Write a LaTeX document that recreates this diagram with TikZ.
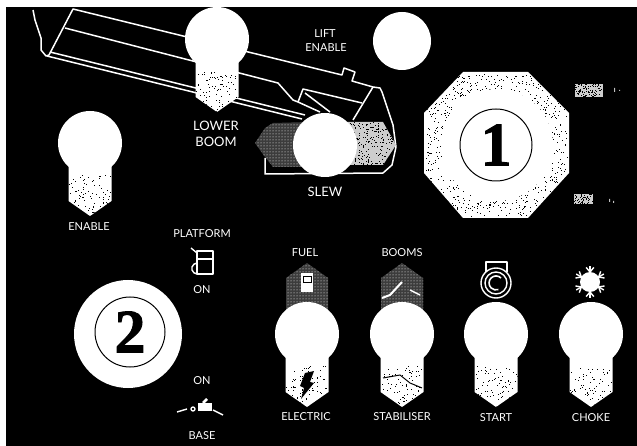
\documentclass[tikz,border=0pt]{standalone}
\usepackage{fontspec}
\setsansfont{Lato}
\newfontfamily\numfont[BoldFeatures={FakeBold=1.5}]{Liberation Serif}
\usetikzlibrary{patterns}
\definecolor{panelblack}{RGB}{0, 0, 0}
\definecolor{darkdot}{RGB}{60, 60, 60}
\definecolor{patchgray}{RGB}{205, 205, 205}
\tikzset{
    panellabel/.style={text=white, font=\sffamily\fontsize{11}{11}\selectfont, inner sep=0pt},
    biglabel/.style={text=white, font=\sffamily\fontsize{13}{13}\selectfont, inner sep=0pt},
    numberlabel/.style={text=black, font=\numfont\bfseries\fontsize{62}{62}\selectfont, inner sep=0pt},
    darkdots/.style={preaction={fill=darkdot}, pattern=dots, pattern color=white},
    panelline/.style={white, line width=1.5pt, line join=round},
    iconline/.style={white, line width=1.4pt, line join=round}
}
% black specks in a box: x1, y1, x2, y2, count
\newcommand{\speckle}[5]{
    \foreach \i in {1,...,#5} {
        \pgfmathsetmacro{\sx}{(#1)+rnd*((#3)-(#1))}
        \pgfmathsetmacro{\sy}{(#2)+rnd*((#4)-(#2))}
        \fill[black] (\sx, \sy) rectangle ++(1, 1);
    }
}
% one knob: round head and pointed dotted stem
\newcommand{\knob}[2]{
    \fill[white] (#1-21.5, #2+20) -- (#1-21.5, #2+58) -- (#1, #2+73) -- (#1+21.5, #2+58) -- (#1+21.5, #2+20) -- cycle;
    \begin{scope}
        \clip (#1-21.5, #2+20) -- (#1-21.5, #2+58) -- (#1, #2+73) -- (#1+21.5, #2+58) -- (#1+21.5, #2+20) -- cycle;
        \speckle{#1-21}{#2+32}{#1+21}{#2+72}{85}
    \end{scope}
    \fill[white] (#1, #2) circle (32);
}
\begin{document}
\begin{tikzpicture}[x=1pt, y=-1pt]
    \useasboundingbox (0, 0) rectangle (637, 446);
    \pgfmathsetseed{7}
    \fill[white] (0, 0) rectangle (637, 446);
    \fill[panelblack] (6, 7) rectangle (637, 446);

    % boom outline
    \draw[panelline] (33, 10) -- (35, 20) -- (41, 38) -- (41, 50) -- (46, 56) -- (49, 55) -- (73, 9) -- (342, 75) -- (344, 68) -- (355, 72) -- (352, 81) -- (373, 87) -- (380, 88) -- (382, 92) -- (393, 125) -- (396, 147) -- (392, 165) -- (383, 173) -- (265, 174) -- (265, 158);
    \draw[panelline] (373, 87) -- (353, 120);
    \draw[panelline] (65, 28) -- (278, 83) -- (293, 100) -- (298, 102) -- (303, 89) -- (362, 103);
    \draw[panelline] (298, 102) -- (320, 112);
    \draw[panelline] (305, 93) -- (330, 112);
    \draw[panelline] (50, 52) -- (305, 115);
    \draw[panelline] (47, 56) -- (302, 119);

    % slew arrows
    \path[darkdots] (255, 143) -- (265, 128) -- (273, 123) -- (310, 122) -- (310, 167) -- (273, 167) -- (265, 157) -- cycle;
    \fill[patchgray] (345, 122) -- (383, 122) -- (396, 145) -- (383, 165) -- (345, 165) -- cycle;
    \begin{scope}
        \clip (345, 122) -- (383, 122) -- (396, 145) -- (383, 165) -- (345, 165) -- cycle;
        \speckle{345}{122}{396}{165}{260}
    \end{scope}
    \fill[white] (325, 145) circle (32);

    % knobs
    \knob{217}{39}
    \knob{90}{143}
    \path[darkdots] (286, 278) -- (307, 263) -- (328, 278) -- (328, 310) -- (286, 310) -- cycle;
    \path[darkdots] (381, 278) -- (402, 263) -- (423, 278) -- (423, 310) -- (381, 310) -- cycle;
    \foreach \x in {307, 402, 496, 591} {
        \knob{\x}{334}
    }
    \fill[white] (402, 41) circle (29);

    % octagon 1
    \fill[white] (463, 72) -- (528, 72) -- (569, 113) -- (569, 173) -- (528, 218) -- (463, 218) -- (424, 173) -- (424, 113) -- cycle;
    \begin{scope}
        \clip (463, 72) -- (528, 72) -- (569, 113) -- (569, 173) -- (528, 218) -- (463, 218) -- (424, 173) -- (424, 113) -- cycle;
        \speckle{426}{74}{567}{216}{1200}
    \end{scope}
    \fill[white] (497, 145) circle (56);
    \draw[black, line width=1pt] (496, 145) circle (36);
    \node[numberlabel] (one) at (496, 145) {1};

    % disc 2
    \fill[white] (128, 334) circle (54);
    \draw[black, line width=1pt] (130, 332) circle (35);
    \node[numberlabel] (two) at (130, 332) {2};

    % small marks at the right
    \fill[patchgray] (575, 84) rectangle (603, 97);
    \speckle{575}{84}{602}{96}{90}
    \fill[patchgray] (574, 194) rectangle (593, 204);
    \speckle{574}{194}{592}{203}{50}
    \fill[white!75!black] (614, 88) rectangle (615, 92) (619, 90) rectangle (620, 91);
    \fill[white!75!black] (609, 199) rectangle (610, 202) (613, 201) rectangle (614, 203);

    % fuel can
    \draw[iconline] (191, 248) -- (197, 253);
    \draw[iconline] (197, 251) rectangle (213, 274);
    \draw[iconline] (197, 259) -- (213, 259);
    \draw[iconline, rounded corners=2pt] (197, 263) -- (192, 265) -- (192, 272) -- (197, 274);

    % base switch
    \draw[iconline] (177, 412) -- (187, 409);
    \draw[iconline] (193, 409) circle (2);
    \fill[white] (198, 403) rectangle (212, 411);
    \draw[white, line width=2.5pt] (203, 403) -- (207, 399);
    \draw[iconline] (213, 410) -- (223, 415);

    % icons on the knobs
    \fill[white] (301, 273) rectangle (313, 292);
    \draw[black] (303, 276) rectangle (311, 282);
    \draw[white, line width=2pt] (382, 298) -- (390, 295) -- (402, 282);
    \draw[white, line width=1.4pt] (410, 290) -- (420, 295);
    \fill[black] (305, 373) -- (314, 371) -- (310, 382) -- (314, 383) -- (301, 399) -- (304, 388) -- (300, 386) -- cycle;
    \draw[black, line width=1pt] (383, 378) -- (400, 375) -- (410, 383) -- (422, 388);

    % key symbol
    \draw[iconline] (486, 272) -- (486, 262) -- (507, 262) -- (507, 272);
    \draw[iconline, fill=panelblack] (496, 283) circle (15);
    \draw[iconline] (496, 283) circle (11);
    \draw[white, line width=1.6pt] (501, 278) arc (-45:-290:7);

    % snowflake
    \fill[white] (590, 282) circle (10);
    \foreach \a in {30, 90, 150, 210, 270, 330} {
        \draw[iconline] (590, 282) -- ++(\a:16);
        \draw[iconline] (590, 282) ++(\a:10) -- ++(\a+40:6);
        \draw[iconline] (590, 282) ++(\a:10) -- ++(\a-40:6);
    }

    % labels
    \node[panellabel] (lift) at (325, 34) {LIFT};
    \node[panellabel] (liften) at (326, 48) {ENABLE};
    \node[biglabel] (lower) at (216, 126) {LOWER};
    \node[biglabel] (boom) at (216, 142) {BOOM};
    \node[biglabel] (slew) at (325, 192) {SLEW};
    \node[panellabel] (enable) at (89, 227) {ENABLE};
    \node[panellabel] (platform) at (202, 234) {PLATFORM};
    \node[panellabel] (onup) at (202, 290) {ON};
    \node[panellabel] (ondown) at (202, 381) {ON};
    \node[panellabel] (base) at (202, 436) {BASE};
    \node[panellabel] (fuel) at (305, 253) {FUEL};
    \node[panellabel] (booms) at (402, 253) {BOOMS};
    \node[panellabel] (electric) at (306, 417) {ELECTRIC};
    \node[panellabel] (stabiliser) at (402, 417) {STABILISER};
    \node[panellabel] (start) at (496, 418) {START};
    \node[panellabel] (choke) at (591, 418) {CHOKE};
\end{tikzpicture}
\end{document}
